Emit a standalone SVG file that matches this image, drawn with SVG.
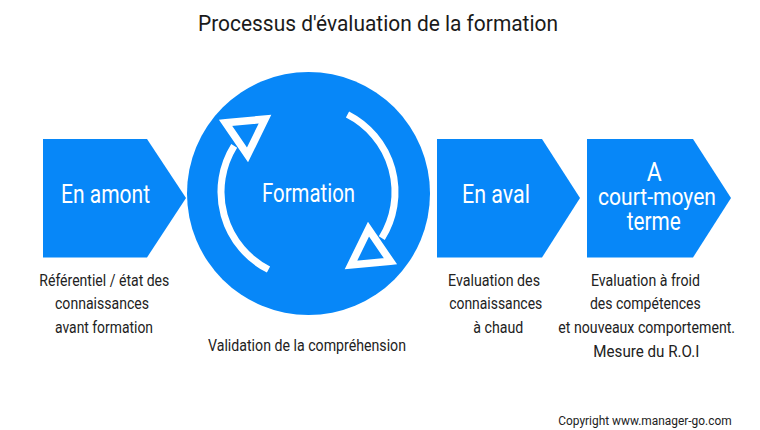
<svg xmlns="http://www.w3.org/2000/svg" width="760" height="430" viewBox="0 0 760 430">
<style>
.shape{fill:#0787f8;}
.wl{fill:none;stroke:#ffffff;stroke-width:7;}
.tri{fill:none;stroke:#ffffff;stroke-width:7.5;stroke-linejoin:miter;}
.in{font-family:Roboto,"Liberation Sans",sans-serif;font-size:25px;fill:#ffffff;text-anchor:middle;}
.in2{font-family:Roboto,"Liberation Sans",sans-serif;font-size:23px;fill:#ffffff;text-anchor:middle;}
.lb{font-family:Roboto,"Liberation Sans",sans-serif;font-size:16.5px;fill:#222222;text-anchor:middle;}
.tt{font-family:Roboto,"Liberation Sans",sans-serif;font-size:22.5px;fill:#1a1a1a;text-anchor:middle;}
.cp{font-family:Roboto,"Liberation Sans",sans-serif;font-size:12.5px;fill:#222222;text-anchor:middle;}
</style>
<rect width="760" height="430" fill="#ffffff"/>
<text class="tt" x="378" y="31" textLength="360" lengthAdjust="spacingAndGlyphs">Processus d'évaluation de la formation</text>

<g id="amont">
<polygon class="shape" points="43,139 147,139 186,198 147,257.5 43,257.5"/>
<text class="in" x="105.5" y="202.7" textLength="89" lengthAdjust="spacingAndGlyphs">En amont</text>
</g>

<g id="formation">
<circle class="shape" cx="308.5" cy="193.5" r="121.5"/>
<path class="wl" d="M268.5,269.5 A87,87 0 0 1 234.2,145.9"/>
<path class="wl" d="M347.5,114.5 A87,87 0 0 1 381.8,238.1"/>
<polygon class="tri" points="225.6,122.8 265,119.1 247.5,154.9"/>
<polygon class="tri" points="390.4,261.2 351,264.9 368.5,229.1"/>
<text class="in" x="308.5" y="202" textLength="93" lengthAdjust="spacingAndGlyphs">Formation</text>
</g>

<g id="aval">
<polygon class="shape" points="437,139 542,139 580,198 542,257.5 437,257.5"/>
<text class="in" x="496" y="202.7" textLength="68" lengthAdjust="spacingAndGlyphs">En aval</text>
</g>

<g id="court-moyen">
<polygon class="shape" points="587,139 693,139 731,198 693,257.5 587,257.5"/>
<text class="in" x="654.2" y="180.7" textLength="15" lengthAdjust="spacingAndGlyphs">A</text>
<text class="in2" x="657" y="205" textLength="118" lengthAdjust="spacingAndGlyphs">court-moyen</text>
<text class="in" x="653.7" y="230" textLength="54" lengthAdjust="spacingAndGlyphs">terme</text>
</g>

<g id="labels">
<text class="lb" x="104.3" y="286" textLength="130" lengthAdjust="spacingAndGlyphs">Référentiel / état des</text>
<text class="lb" x="102" y="309.3" textLength="94" lengthAdjust="spacingAndGlyphs">connaissances</text>
<text class="lb" x="104" y="333.3" textLength="98" lengthAdjust="spacingAndGlyphs">avant formation</text>
<text class="lb" x="307" y="350.7" textLength="198" lengthAdjust="spacingAndGlyphs">Validation de la compréhension</text>
<text class="lb" x="494" y="285.5" textLength="92" lengthAdjust="spacingAndGlyphs">Evaluation des</text>
<text class="lb" x="495.7" y="309.3" textLength="93" lengthAdjust="spacingAndGlyphs">connaissances</text>
<text class="lb" x="498.3" y="332.7" textLength="50" lengthAdjust="spacingAndGlyphs">à chaud</text>
<text class="lb" x="645.5" y="285.5" textLength="109" lengthAdjust="spacingAndGlyphs">Evaluation à froid</text>
<text class="lb" x="645.3" y="309.3" textLength="110.7" lengthAdjust="spacingAndGlyphs">des compétences</text>
<text class="lb" x="646.7" y="333" textLength="176.7" lengthAdjust="spacingAndGlyphs">et nouveaux comportement.</text>
<text class="lb" x="646.3" y="356.7" textLength="106" lengthAdjust="spacingAndGlyphs">Mesure du R.O.I</text>
<text class="cp" x="645" y="425" textLength="173.4" lengthAdjust="spacingAndGlyphs">Copyright www.manager-go.com</text>
</g>
</svg>
